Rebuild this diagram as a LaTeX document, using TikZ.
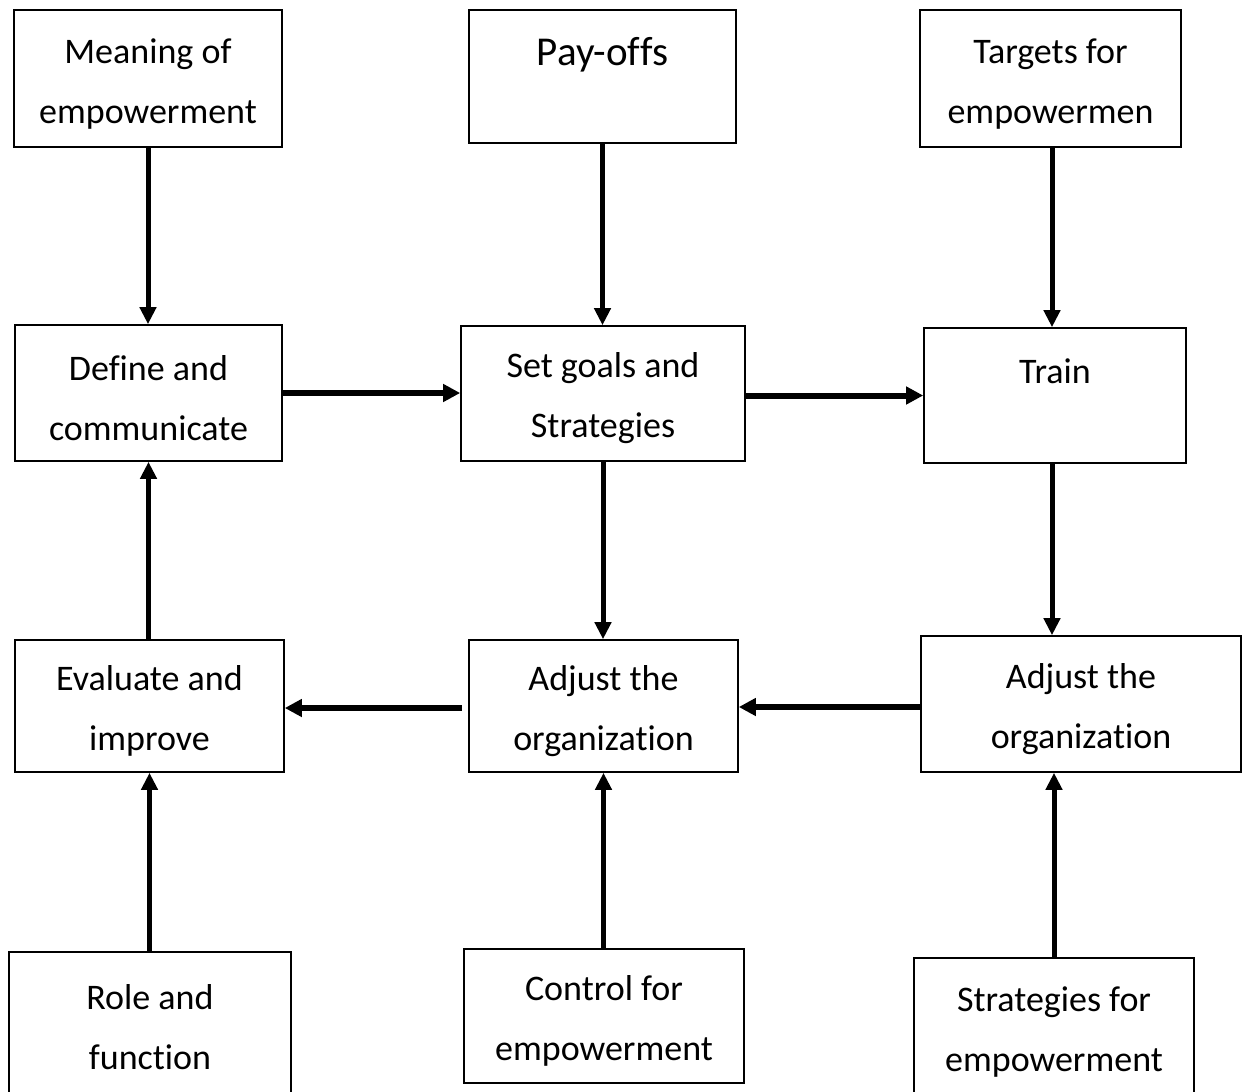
\documentclass[tikz,border=0pt]{standalone}
\usepackage{fontspec}
\setmainfont[Ligatures={NoCommon}]{Carlito}
\usetikzlibrary{arrows.meta}
\newcommand\firstpad{\rule{0pt}{35pt}}
\begin{document}
\begin{tikzpicture}[x=1pt,y=-1pt,
  bx/.style 2 args={draw,line width=1.6pt,minimum width=#1pt,minimum height=#2pt,inner sep=0pt,align=center,font=\fontsize{36}{60}\selectfont},
  openbx/.style={draw=none},
  side/.style={line width=1.6pt},
  arr/.style={line width=5pt,-{Triangle[length=17pt,width=16pt]}},
  harr/.style={line width=6pt,-{Triangle[length=17pt,width=17pt]}}]
\useasboundingbox (0,0) rectangle (1243,1092);
\clip (0,0) rectangle (1243,1092);
\fill[white] (0,0) rectangle (1243,1092);
% row 1
\node[bx={268}{137}] (meaning) at (148,78.5) {\firstpad Meaning of\\empowerment};
\node[bx={267}{133},font=\fontsize{41}{50}\selectfont] (payoffs) at (602.5,76.5) {Pay-offs\\\mbox{}};
\node[bx={261}{137}] (targets) at (1050.5,78.5) {\firstpad Targets for\\empowermen};
% row 2
\node[bx={267}{136}] (define) at (148.5,393) {\firstpad Define and\\communicate};
\node[bx={284}{135}] (setgoals) at (603,393.5) {\firstpad Set goals and\\Strategies};
\node[bx={262}{135}] (train) at (1055,395.5) {\firstpad Train\\\mbox{}};
% row 3
\node[bx={269}{132}] (evaluate) at (149.5,706) {\firstpad Evaluate and\\improve};
\node[bx={269}{132}] (admid) at (603.5,706) {\firstpad Adjust the\\organization};
\node[bx={320}{136}] (adright) at (1081,704) {\firstpad Adjust the\\organization};
% row 4
\node[bx={280}{138},openbx] (role) at (150,1022) {\firstpad Role and\\function};
\node[bx={280}{134}] (control) at (604,1016) {\firstpad Control for\\empowerment};
\node[bx={278}{136},openbx] (strat) at (1054,1027) {\firstpad Strategies for\\empowerment};
\draw[side] ([yshift=-20pt]role.south west) |- (role.north east) -- ([yshift=-20pt]role.south east);
\draw[side] ([yshift=-20pt]strat.south west) |- (strat.north east) -- ([yshift=-20pt]strat.south east);
% arrows
\draw[arr] (meaning.south) -- (meaning.south |- define.north);
\draw[arr] (payoffs.south) -- (payoffs.south |- setgoals.north);
\draw[arr] ([xshift=1.5pt]targets.south) -- ([xshift=1.5pt]targets.south |- train.north);
\draw[harr] (define.east) -- (define.east -| setgoals.west);
\draw[harr] (setgoals.east |- train.west) -- (train.west);
\draw[arr] (setgoals.south) -- (setgoals.south |- admid.north);
\draw[arr] ([xshift=-3pt]train.south) -- ([xshift=-3pt]train.south |- adright.north);
\draw[harr] (adright.west |- 0,707) -- (admid.east |- 0,707);
\draw[harr] ([xshift=-6pt]admid.west |- 0,708) -- (evaluate.east |- 0,708);
\draw[arr] (evaluate.north -| define.south) -- (define.south);
\draw[arr] (role.north -| evaluate.south) -- (evaluate.south);
\draw[arr] (control.north -| admid.south) -- (admid.south);
\draw[arr] (strat.north) -- (strat.north |- adright.south);
\end{tikzpicture}
\end{document}
